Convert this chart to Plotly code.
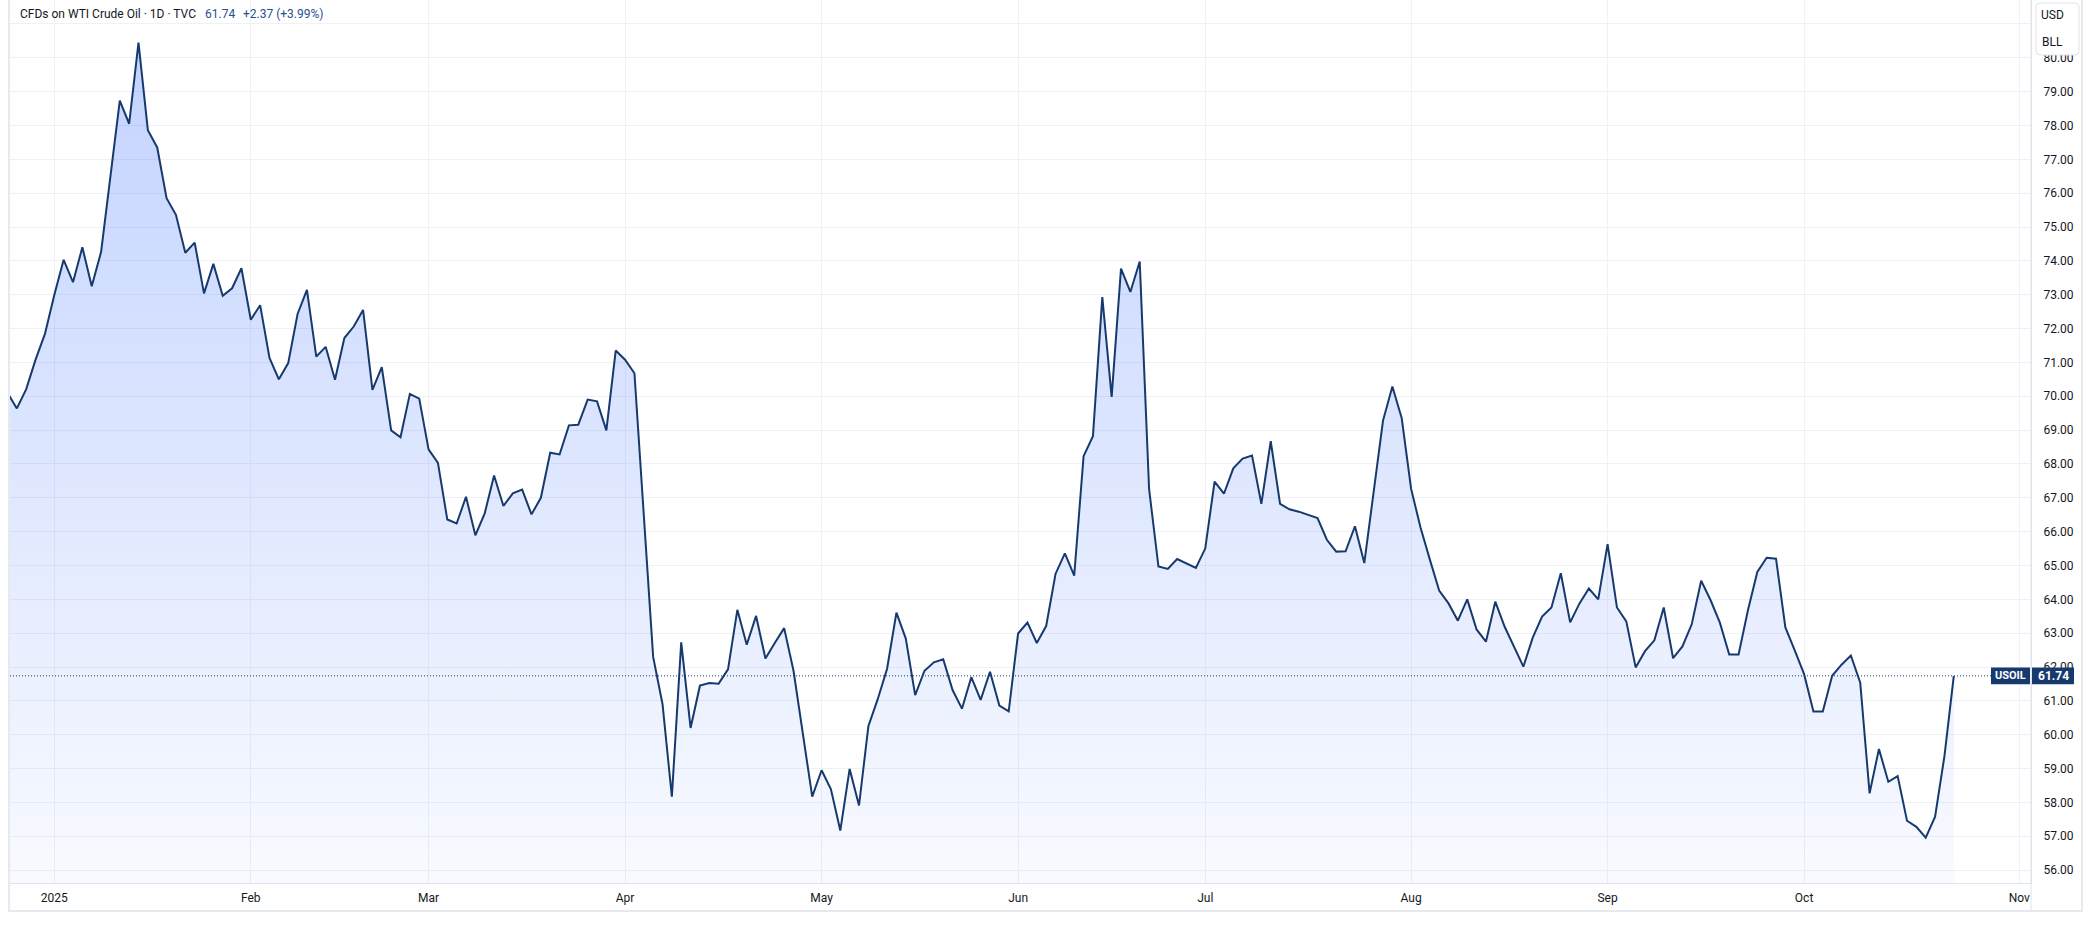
import pandas as pd
import plotly.graph_objects as go

# ---------------- data (daily closes, TVC:USOIL) ----------------
dec_2024 = [70.10, 69.64, 70.21, 71.08, 71.84]
jan_2025 = [72.99, 74.03, 73.37, 74.40, 73.25, 74.26, 76.49, 78.73, 78.05, 80.45, 77.86,
            77.35, 75.85, 75.36, 74.24, 74.54, 73.04, 73.91, 72.97, 73.19, 73.78]
feb_2025 = [72.26, 72.69, 71.13, 70.50, 70.98, 72.43, 73.14, 71.17, 71.46, 70.49, 71.72,
            72.06, 72.55, 70.19, 70.86, 68.99, 68.79, 70.07, 69.93]
mar_2025 = [68.43, 68.03, 66.36, 66.24, 67.03, 65.89, 66.54, 67.66, 66.76, 67.13, 67.24,
            66.51, 67.00, 68.33, 68.28, 69.14, 69.16, 69.90, 69.85, 68.99, 71.35]
apr_2025 = [71.08, 70.68, 66.60, 62.30, 60.91, 58.17, 62.73, 60.20, 61.45, 61.53, 61.51,
            61.93, 63.69, 62.66, 63.51, 62.25, 62.71, 63.15, 61.89, 60.07, 58.17]
may_2025 = [58.95, 58.39, 57.17, 58.99, 57.91, 60.25, 61.05, 61.95, 63.61, 62.84, 61.17,
            61.89, 62.14, 62.23, 61.32, 60.77, 61.70, 61.03, 61.86, 60.86, 60.69]
jun_2025 = [62.99, 63.31, 62.71, 63.21, 64.75, 65.36, 64.70, 68.23, 68.82, 72.93, 69.98,
            73.77, 73.08, 73.98, 67.26, 64.97, 64.90, 65.19, 65.05, 64.93]
jul_2025 = [65.50, 67.48, 67.12, 67.87, 68.16, 68.25, 66.82, 68.67, 66.82, 66.66, 66.59,
            66.50, 66.40, 65.76, 65.41, 65.42, 66.16, 65.07, 67.19, 69.28, 70.29, 69.35]
aug_2025 = [67.27, 66.13, 65.18, 64.26, 63.88, 63.37, 64.00, 63.11, 62.75, 63.93, 63.19,
            62.59, 62.01, 62.87, 63.49, 63.76, 64.77, 63.32, 63.88, 64.32, 64.00]
sep_2025 = [65.63, 63.76, 63.35, 61.99, 62.47, 62.79, 63.76, 62.26, 62.61, 63.27, 64.55,
            63.98, 63.31, 62.37, 62.37, 63.68, 64.81, 65.23, 65.20, 63.17, 62.49]
oct_2025 = [61.79, 60.69, 60.69, 61.74, 62.07, 62.34, 61.54, 58.27, 59.58, 58.61, 58.78,
            57.46, 57.28, 56.96, 57.58, 59.37, 61.74]

month_labels = ["2025", "Feb", "Mar", "Apr", "May", "Jun", "Jul", "Aug", "Sep", "Oct", "Nov"]
holidays = ["2024-12-25", "2025-01-01", "2025-01-20", "2025-02-17", "2025-04-18",
            "2025-05-26", "2025-06-19", "2025-07-04", "2025-09-01"]
y_ticks = list(range(56, 82))
hidden_y_labels = [81]          # sits under the currency/unit box

title_text = "CFDs on WTI Crude Oil · 1D · TVC"
symbol = "USOIL"

# ---------------- assemble ----------------
closes = (dec_2024 + jan_2025 + feb_2025 + mar_2025 + apr_2025 + may_2025 + jun_2025 +
          jul_2025 + aug_2025 + sep_2025 + oct_2025)
days = pd.bdate_range("2024-12-24", "2025-11-03")
days = days[~days.isin(pd.to_datetime(holidays))]
idx = list(range(len(closes)))

tick_pos, seen = [], set()
for i, d in enumerate(days):
    key = (d.year, d.month)
    if key not in seen and d >= pd.Timestamp("2025-01-01"):
        seen.add(key)
        tick_pos.append(i)

last = closes[-1]
prev = closes[-2]
chg = last - prev
pct = chg / prev * 100

NAVY = "#173a6e"
GRID = "#f0f1f4"
SEP = "#e0e3eb"
TXT = "#131722"
FONT = "Roboto"

W, H = 2093, 926
L, R, T, B = 10, 2031, 0, 883
PW, PH = R - L, B - T


def px_x(px):
    return (px - L) / PW


def px_y(py):
    return (B - py) / PH


fig = go.Figure()
fig.add_trace(go.Scatter(
    x=idx, y=closes, mode="lines",
    line=dict(color=NAVY, width=2),
    fill="tozeroy",
    fillgradient=dict(type="vertical",
                      colorscale=[[0, "rgba(41,98,255,0.03)"], [1, "rgba(41,98,255,0.28)"]],
                      start=55.6, stop=max(closes)),
    hoverinfo="skip", showlegend=False,
))

fig.update_layout(
    width=W, height=H, autosize=False,
    margin=dict(l=L, r=W - R, t=T, b=H - B),
    paper_bgcolor="white", plot_bgcolor="white",
    font=dict(family=FONT, size=12, color=TXT),
    showlegend=False,
    xaxis=dict(
        range=[0.267, 216.25], tickmode="array", tickvals=tick_pos, ticktext=month_labels,
        showgrid=True, gridcolor=GRID, gridwidth=1, zeroline=False,
        showline=True, linecolor=SEP, linewidth=1, ticks="", ticklabelstandoff=4,
        tickfont=dict(family=FONT, size=12, color=TXT), fixedrange=True,
    ),
    yaxis=dict(
        range=[55.62, 81.706], side="right", tickmode="array", tickvals=y_ticks,
        ticktext=["" if v in hidden_y_labels else f"{v:.2f}" for v in y_ticks],
        showgrid=True, gridcolor=GRID, gridwidth=1, zeroline=False,
        showline=True, linecolor=SEP, linewidth=1, ticks="", ticklabelstandoff=9,
        tickfont=dict(family=FONT, size=12, color=TXT), fixedrange=True,
    ),
)


def rrect(x0, y0, x1, y1, r):
    pts = [
        f"M {px_x(x0 + r)},{px_y(y0)}",
        f"L {px_x(x1 - r)},{px_y(y0)}",
        f"Q {px_x(x1)},{px_y(y0)} {px_x(x1)},{px_y(y0 + r)}",
        f"L {px_x(x1)},{px_y(y1 - r)}",
        f"Q {px_x(x1)},{px_y(y1)} {px_x(x1 - r)},{px_y(y1)}",
        f"L {px_x(x0 + r)},{px_y(y1)}",
        f"Q {px_x(x0)},{px_y(y1)} {px_x(x0)},{px_y(y1 - r)}",
        f"L {px_x(x0)},{px_y(y0 + r)}",
        f"Q {px_x(x0)},{px_y(y0)} {px_x(x0 + r)},{px_y(y0)}",
        "Z",
    ]
    return " ".join(pts)


shapes = [
    # last price dotted line
    dict(type="line", xref="paper", yref="y", x0=0, x1=1, y0=last, y1=last,
         line=dict(color=NAVY, width=1, dash="1px,2px"), layer="above"),
    # outer frame
    dict(type="rect", xref="paper", yref="paper", x0=px_x(9), x1=px_x(2082),
         y0=px_y(911), y1=px_y(-3), line=dict(color="#e6e9ef", width=2), layer="above"),
    # price-scale separator through the time-scale row
    dict(type="line", xref="paper", yref="paper", x0=1, x1=1, y0=px_y(911), y1=1,
         line=dict(color=SEP, width=1), layer="above"),
    # last price labels
    dict(type="rect", xref="paper", yref="y", xsizemode="pixel", ysizemode="pixel",
         xanchor=1, yanchor=last, x0=1, x1=43, y0=-8.3, y1=8.3,
         fillcolor=NAVY, line=dict(width=0), layer="above"),
    dict(type="rect", xref="paper", yref="y", xsizemode="pixel", ysizemode="pixel",
         xanchor=1, yanchor=last, x0=-40, x1=-1, y0=-8.3, y1=8.3,
         fillcolor=NAVY, line=dict(width=0), layer="above"),
    # currency / unit box
    dict(type="path", xref="paper", yref="paper", path=rrect(2036, 3, 2079, 55, 4),
         fillcolor="white", line=dict(color="#e0e3eb", width=1), layer="above"),
]
fig.update_layout(shapes=shapes)

ann = [
    dict(text=title_text, x=px_x(18), y=px_y(14), xanchor="left", yanchor="middle",
         font=dict(family=FONT, size=12, color=TXT)),
    dict(text=f"{last:.2f}", x=px_x(203), y=px_y(14), xanchor="left", yanchor="middle",
         font=dict(family=FONT, size=12, color="#27508f")),
    dict(text=f"{chg:+.2f} ({pct:+.2f}%)", x=px_x(241), y=px_y(14), xanchor="left",
         yanchor="middle", font=dict(family=FONT, size=12, color="#27508f")),
    dict(text="USD", x=px_x(2052), y=px_y(15), xanchor="center", yanchor="middle",
         font=dict(family=FONT, size=12, color=TXT)),
    dict(text="BLL", x=px_x(2052), y=px_y(42), xanchor="center", yanchor="middle",
         font=dict(family=FONT, size=12, color=TXT)),
]
for a in ann:
    a.update(xref="paper", yref="paper", showarrow=False)
ann.append(dict(text=f"<b>{last:.2f}</b>", xref="paper", yref="y", x=1, y=last, xshift=22,
                xanchor="center", yanchor="middle", showarrow=False,
                font=dict(family=FONT, size=12, color="white")))
ann.append(dict(text=f"<b>{symbol}</b>", xref="paper", yref="y", x=1, y=last, xshift=-20.5,
                xanchor="center", yanchor="middle", showarrow=False,
                font=dict(family=FONT, size=11, color="white")))
fig.update_layout(annotations=ann)

fig.write_html(
    "out.html",
    config={"displayModeBar": False, "staticPlot": True},
    post_script="document.body.style.margin='0';document.body.style.overflow='hidden';",
)
